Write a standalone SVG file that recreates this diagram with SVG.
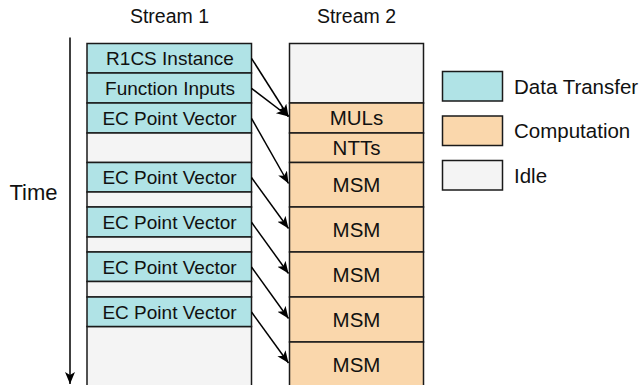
<svg xmlns="http://www.w3.org/2000/svg" width="642" height="385" viewBox="0 0 642 385">
<style>
text{font-family:"Liberation Sans",Arial,Helvetica,sans-serif;fill:#111;}
.dt{fill:#b0e3e6;stroke:#1a1a1a;stroke-width:1.5;}
.cp{fill:#fad7ac;stroke:#1a1a1a;stroke-width:1.5;}
.id{fill:#f4f4f4;stroke:#1a1a1a;stroke-width:1.5;}
.s1{font-size:19px;text-anchor:middle;}
.s2{font-size:20.5px;text-anchor:middle;}
.lg{font-size:20.5px;}
.hd{font-size:19.5px;text-anchor:middle;}
.ar{fill:none;stroke:#000;stroke-width:1.5;marker-end:url(#ah);}
</style>
<defs>
<marker id="ah" markerUnits="userSpaceOnUse" markerWidth="14" markerHeight="12" viewBox="0 0 14 12" refX="12" refY="5" orient="auto">
<path d="M0,0 L12,5 L0,10 L3,5 z" fill="#000"/>
</marker>
</defs>
<rect width="642" height="385" fill="#fff"/>
<g id="headers">
<text class="hd" x="169.5" y="23">Stream 1</text>
<text class="hd" x="356.5" y="23">Stream 2</text>
</g>
<g id="time-axis">
<line x1="70" y1="37.5" x2="70" y2="384" stroke="#000" stroke-width="1.5" marker-end="url(#ah)"/>
<text x="9.5" y="200" font-size="22">Time</text>
</g>
<g id="stream1">
<g id="s1-idle-end"><rect class="id" x="87" y="326.5" width="164.5" height="70"/></g>
<g id="s1-r1cs"><rect class="dt" x="87" y="43.5" width="164.5" height="29.5"/><text class="s1" x="170" y="65.2">R1CS Instance</text></g>
<g id="s1-inputs"><rect class="dt" x="87" y="73" width="164.5" height="30"/><text class="s1" x="170" y="94.8">Function Inputs</text></g>
<g id="s1-ec1"><rect class="dt" x="87" y="103" width="164.5" height="30"/><text class="s1" x="169.5" y="124.8">EC Point Vector</text></g>
<g id="s1-idle1"><rect class="id" x="87" y="133" width="164.5" height="29.5"/></g>
<g id="s1-ec2"><rect class="dt" x="87" y="162.5" width="164.5" height="29.5"/><text class="s1" x="169.5" y="184">EC Point Vector</text></g>
<g id="s1-idle2"><rect class="id" x="87" y="192" width="164.5" height="15"/></g>
<g id="s1-ec3"><rect class="dt" x="87" y="207" width="164.5" height="30"/><text class="s1" x="169.5" y="228.8">EC Point Vector</text></g>
<g id="s1-idle3"><rect class="id" x="87" y="237" width="164.5" height="15"/></g>
<g id="s1-ec4"><rect class="dt" x="87" y="252" width="164.5" height="29.5"/><text class="s1" x="169.5" y="273.5">EC Point Vector</text></g>
<g id="s1-idle4"><rect class="id" x="87" y="281.5" width="164.5" height="15.5"/></g>
<g id="s1-ec5"><rect class="dt" x="87" y="297" width="164.5" height="29.5"/><text class="s1" x="169.5" y="318.5">EC Point Vector</text></g>
</g>
<g id="stream2">
<g id="s2-idle"><rect class="id" x="289.5" y="43.5" width="134" height="59.5"/></g>
<g id="s2-muls"><rect class="cp" x="289.5" y="103" width="134" height="30"/><text class="s2" x="356.5" y="125.3">MULs</text></g>
<g id="s2-ntts"><rect class="cp" x="289.5" y="133" width="134" height="29.5"/><text class="s2" x="356.5" y="155">NTTs</text></g>
<g id="s2-msm1"><rect class="cp" x="289.5" y="162.5" width="134" height="44.5"/><text class="s2" x="356.5" y="192">MSM</text></g>
<g id="s2-msm2"><rect class="cp" x="289.5" y="207" width="134" height="45"/><text class="s2" x="356.5" y="236.7">MSM</text></g>
<g id="s2-msm3"><rect class="cp" x="289.5" y="252" width="134" height="45"/><text class="s2" x="356.5" y="281.7">MSM</text></g>
<g id="s2-msm4"><rect class="cp" x="289.5" y="297" width="134" height="45"/><text class="s2" x="356.5" y="326.7">MSM</text></g>
<g id="s2-msm5"><rect class="cp" x="289.5" y="342" width="134" height="50"/><text class="s2" x="356.5" y="371.7">MSM</text></g>
</g>
<g id="connectors">
<line class="ar" x1="251.5" y1="58.3" x2="288.5" y2="116.5"/>
<line class="ar" x1="251.5" y1="88.3" x2="288.5" y2="116.5"/>
<line class="ar" x1="251.5" y1="118.3" x2="288.5" y2="183.5"/>
<line class="ar" x1="251.5" y1="177.5" x2="288.5" y2="228.5"/>
<line class="ar" x1="251.5" y1="222.3" x2="288.5" y2="273.5"/>
<line class="ar" x1="251.5" y1="267" x2="288.5" y2="318.5"/>
<line class="ar" x1="251.5" y1="312" x2="288.5" y2="363"/>
</g>
<g id="legend">
<g id="lg-dt"><rect class="dt" x="442.5" y="71.5" width="60" height="29.5"/><text class="lg" x="514" y="93.5">Data Transfer</text></g>
<g id="lg-cp"><rect class="cp" x="442.5" y="116" width="60" height="29.5"/><text class="lg" x="514" y="138">Computation</text></g>
<g id="lg-id"><rect class="id" x="442.5" y="160.5" width="60" height="29.5"/><text class="lg" x="514" y="182.5">Idle</text></g>
</g>
</svg>
